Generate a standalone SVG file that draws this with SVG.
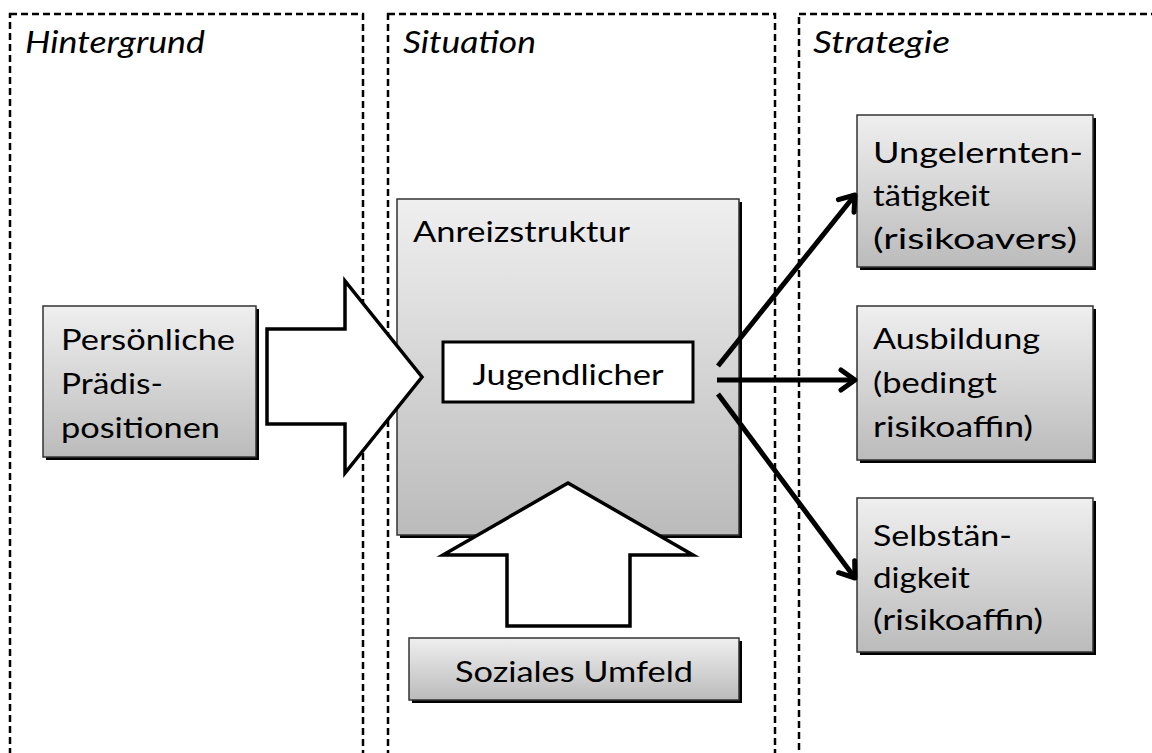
<svg xmlns="http://www.w3.org/2000/svg" width="1152" height="753" viewBox="0 0 1152 753">
<defs>
<linearGradient id="g" x1="0" y1="0" x2="0" y2="1">
<stop offset="0" stop-color="#efefef"/>
<stop offset="1" stop-color="#bbbbbb"/>
</linearGradient>
<marker id="ah" markerUnits="userSpaceOnUse" markerWidth="40" markerHeight="40" viewBox="-20 -20 40 40" refX="0" refY="0" orient="auto">
<path d="M-14,-10 L0,0 L-14,10" fill="none" stroke="#000" stroke-width="5" stroke-linecap="round" stroke-linejoin="round"/>
</marker>
</defs>
<style>
.panel{fill:none;stroke:#000;stroke-width:2.5;stroke-dasharray:7 4}
.head{font-family:Lato,"Open Sans","Liberation Sans",sans-serif;font-style:italic;font-size:31px;fill:#000}
.t{font-family:Lato,"Open Sans","Liberation Sans",sans-serif;font-size:29.5px;fill:#000}
.box{fill:url(#g);stroke:#333;stroke-width:1.5}
.sh{fill:#000}
.big{fill:#fff;stroke:#000;stroke-width:3.5;stroke-linejoin:miter}
.con{stroke:#000;stroke-width:5;fill:none;marker-end:url(#ah)}
</style>
<g id="panels">
<rect class="panel" x="10" y="14" width="353" height="760"/>
<rect class="panel" x="388" y="14" width="387" height="760"/>
<rect class="panel" x="799" y="14" width="400" height="760"/>
<text class="head" x="25" y="53" textLength="180" lengthAdjust="spacingAndGlyphs">Hintergrund</text>
<text class="head" x="403" y="53" textLength="133" lengthAdjust="spacingAndGlyphs">Situation</text>
<text class="head" x="813" y="53" textLength="137" lengthAdjust="spacingAndGlyphs">Strategie</text>
</g>
<g id="node-anreiz">
<rect class="sh" x="400" y="202" width="342" height="336"/>
<rect class="box" x="397" y="199" width="342" height="336"/>
<text class="t" x="413" y="242" textLength="217" lengthAdjust="spacingAndGlyphs">Anreizstruktur</text>
</g>
<g id="node-praedis">
<rect class="sh" x="46" y="309" width="213" height="151"/>
<rect class="box" x="43" y="306" width="213" height="151"/>
<text class="t" x="61" y="350" textLength="174" lengthAdjust="spacingAndGlyphs">Persönliche</text>
<text class="t" x="61" y="394" textLength="102" lengthAdjust="spacingAndGlyphs">Prädis-</text>
<text class="t" x="61" y="438" textLength="159" lengthAdjust="spacingAndGlyphs">positionen</text>
</g>
<g id="arrow-right">
<path class="big" d="M267,329 L345,329 L345,281 L422,377 L345,473 L345,424 L267,424 Z"/>
</g>
<g id="node-jugendlicher">
<rect x="443" y="342" width="250" height="60" fill="#fff" stroke="#000" stroke-width="3"/>
<text class="t" x="568" y="385" text-anchor="middle" textLength="191" lengthAdjust="spacingAndGlyphs">Jugendlicher</text>
</g>
<g id="arrow-up">
<path class="big" d="M568,483 L693,555 L630,555 L630,626 L507,626 L507,555 L443,555 Z"/>
</g>
<g id="node-umfeld">
<rect class="sh" x="412" y="641" width="330" height="62"/>
<rect class="box" x="409" y="638" width="330" height="62"/>
<text class="t" x="574" y="682" text-anchor="middle" textLength="238" lengthAdjust="spacingAndGlyphs">Soziales Umfeld</text>
</g>
<g id="node-ungelernt">
<rect class="sh" x="860" y="118" width="236" height="152"/>
<rect class="box" x="857" y="115" width="236" height="152"/>
<text class="t" x="873" y="163" textLength="210" lengthAdjust="spacingAndGlyphs">Ungelernten-</text>
<text class="t" x="873" y="206" textLength="117" lengthAdjust="spacingAndGlyphs">tätigkeit</text>
<text class="t" x="873" y="249" textLength="204" lengthAdjust="spacingAndGlyphs">(risikoavers)</text>
</g>
<g id="node-ausbildung">
<rect class="sh" x="860" y="309" width="236" height="154"/>
<rect class="box" x="857" y="306" width="236" height="154"/>
<text class="t" x="873" y="349" textLength="167" lengthAdjust="spacingAndGlyphs">Ausbildung</text>
<text class="t" x="873" y="393" textLength="124" lengthAdjust="spacingAndGlyphs">(bedingt</text>
<text class="t" x="873" y="437" textLength="160" lengthAdjust="spacingAndGlyphs">risikoaffin)</text>
</g>
<g id="node-selbst">
<rect class="sh" x="860" y="501" width="236" height="154"/>
<rect class="box" x="857" y="498" width="236" height="154"/>
<text class="t" x="873" y="546" textLength="139" lengthAdjust="spacingAndGlyphs">Selbstän-</text>
<text class="t" x="873" y="588" textLength="97" lengthAdjust="spacingAndGlyphs">digkeit</text>
<text class="t" x="873" y="630" textLength="170" lengthAdjust="spacingAndGlyphs">(risikoaffin)</text>
</g>
<g id="connectors">
<line class="con" x1="718" y1="366" x2="855" y2="195"/>
<line class="con" x1="717" y1="380" x2="855" y2="380"/>
<line class="con" x1="718" y1="394" x2="855" y2="578"/>
</g>
</svg>
